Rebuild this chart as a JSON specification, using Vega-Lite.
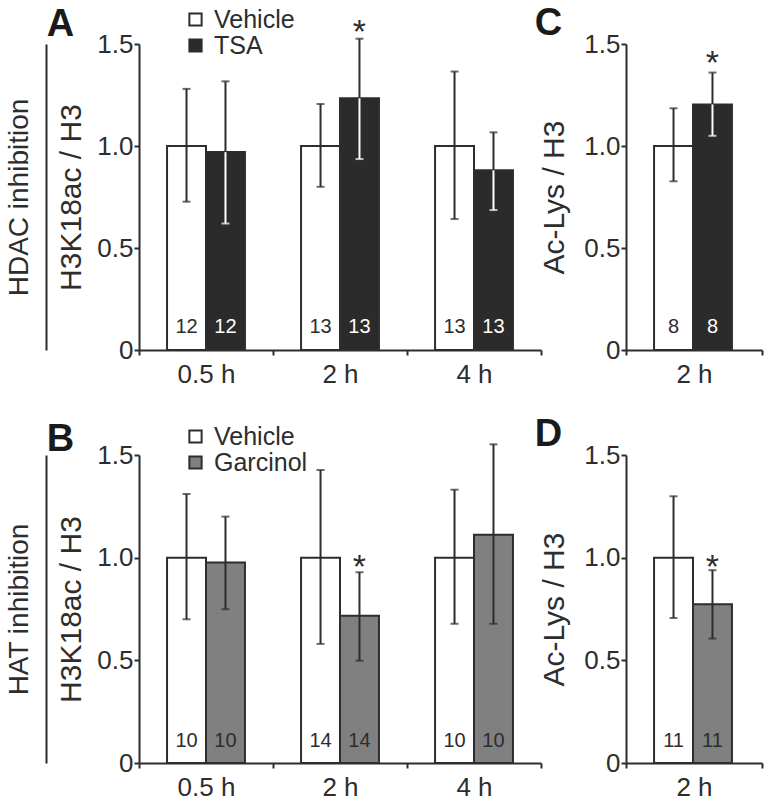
{
  "$schema": "https://vega.github.io/schema/vega-lite/v6.json",
  "padding": {"left": 5, "top": 5, "right": 5, "bottom": 0},
  "background": "white",
  "config": {
    "font": "Liberation Sans",
    "view": {"stroke": null},
    "axis": {"domainColor": "#2d2d2d", "domainWidth": 2, "tickColor": "#2d2d2d", "tickWidth": 2, "tickSize": 5, "labelFontSize": 26, "labelColor": "#2d2d2d", "titleFontSize": 30, "titleFontWeight": "normal", "titleColor": "#2d2d2d", "grid": false},
    "title": {"fontSize": 38, "fontWeight": "bold", "color": "#1a1a1a", "anchor": "start", "frame": "bounds"},
    "legend": {"labelFontSize": 25, "labelColor": "#2d2d2d", "symbolType": "square", "symbolSize": 150, "symbolStrokeColor": "#2d2d2d", "symbolStrokeWidth": 2, "rowPadding": -2, "labelOffset": 6}
  },
  "datasets": {
    "bars": [
      {"panel": "A", "time": "0.5 h", "group": "Vehicle", "mean": 1.0, "lo": 0.727, "hi": 1.28, "n": 12, "sig": ""},
      {"panel": "A", "time": "0.5 h", "group": "TSA", "mean": 0.97, "lo": 0.62, "hi": 1.317, "n": 12, "sig": ""},
      {"panel": "A", "time": "2 h", "group": "Vehicle", "mean": 1.0, "lo": 0.8, "hi": 1.206, "n": 13, "sig": ""},
      {"panel": "A", "time": "2 h", "group": "TSA", "mean": 1.234, "lo": 0.936, "hi": 1.526, "n": 13, "sig": "*"},
      {"panel": "A", "time": "4 h", "group": "Vehicle", "mean": 1.0, "lo": 0.642, "hi": 1.365, "n": 13, "sig": ""},
      {"panel": "A", "time": "4 h", "group": "TSA", "mean": 0.881, "lo": 0.686, "hi": 1.067, "n": 13, "sig": ""},
      {"panel": "C", "time": "2 h", "group": "Vehicle", "mean": 1.0, "lo": 0.827, "hi": 1.185, "n": 8, "sig": ""},
      {"panel": "C", "time": "2 h", "group": "TSA", "mean": 1.204, "lo": 1.05, "hi": 1.36, "n": 8, "sig": "*"},
      {"panel": "B", "time": "0.5 h", "group": "Vehicle", "mean": 1.0, "lo": 0.7, "hi": 1.31, "n": 10, "sig": ""},
      {"panel": "B", "time": "0.5 h", "group": "Garcinol", "mean": 0.976, "lo": 0.749, "hi": 1.2, "n": 10, "sig": ""},
      {"panel": "B", "time": "2 h", "group": "Vehicle", "mean": 1.0, "lo": 0.58, "hi": 1.427, "n": 14, "sig": ""},
      {"panel": "B", "time": "2 h", "group": "Garcinol", "mean": 0.717, "lo": 0.498, "hi": 0.929, "n": 14, "sig": "*"},
      {"panel": "B", "time": "4 h", "group": "Vehicle", "mean": 1.0, "lo": 0.678, "hi": 1.331, "n": 10, "sig": ""},
      {"panel": "B", "time": "4 h", "group": "Garcinol", "mean": 1.112, "lo": 0.678, "hi": 1.552, "n": 10, "sig": ""},
      {"panel": "D", "time": "2 h", "group": "Vehicle", "mean": 1.0, "lo": 0.706, "hi": 1.299, "n": 11, "sig": ""},
      {"panel": "D", "time": "2 h", "group": "Garcinol", "mean": 0.773, "lo": 0.606, "hi": 0.939, "n": 11, "sig": "*"}
    ],
    "labels": [{"k": 1}]
  },
  "resolve": {"scale": {"fill": "independent", "xOffset": "independent", "x": "independent", "y": "independent"}},
  "vconcat": [
    {
      "hconcat": [
        {
          "data": {"name": "labels"},
          "width": 1, "height": 306,
          "mark": {"type": "rule", "opacity": 0},
          "encoding": {
            "y": {"datum": 0, "type": "quantitative", "scale": {"domain": [0, 1.5], "nice": false},
              "axis": {"title": "HDAC inhibition", "labels": false, "ticks": false, "titlePadding": 13, "titleFontSize": 28}}
          }
        },
        {
          "hconcat": [
            {
              "data": {"name": "bars"},
              "width": 402, "height": 306,
              "title": {"text": "A", "dx": -10, "dy": 32},
              "transform": [{"filter": "datum.panel === 'A'"}],
              "encoding": {
                "x": {"field": "time", "type": "nominal", "sort": ["0.5 h", "2 h", "4 h"], "scale": {"paddingInner": 0, "paddingOuter": 0},
                  "axis": {"title": null, "labelAngle": 0, "tickBand": "extent", "labelPadding": 6}},
                "xOffset": {"field": "group", "type": "nominal", "scale": {"domain": ["Vehicle", "TSA"], "paddingInner": 0, "paddingOuter": 0.72}}
              },
              "layer": [
                {"mark": {"type": "bar", "stroke": "#2d2d2d", "strokeWidth": 2},
                  "encoding": {
                    "y": {"field": "mean", "type": "quantitative", "scale": {"domain": [0, 1.5], "nice": false},
                      "axis": {"title": "H3K18ac / H3", "values": [0, 0.5, 1, 1.5], "labelExpr": "datum.value === 0 ? '0' : format(datum.value, '.1f')", "labelPadding": 1, "titlePadding": 10}},
                    "fill": {"field": "group", "type": "nominal", "scale": {"domain": ["Vehicle", "TSA"], "range": ["#ffffff", "#2b2b2b"]},
                      "legend": {"title": null, "orient": "none", "legendX": 137, "legendY": -37}}
                  }},
                {"mark": {"type": "rule", "color": "#2d2d2d", "strokeWidth": 2},
                  "encoding": {"y": {"field": "lo", "type": "quantitative"}, "y2": {"field": "hi"}}},
                {"transform": [{"filter": "datum.group === 'TSA'"}],
                  "mark": {"type": "rule", "color": "#ffffff", "strokeWidth": 2},
                  "encoding": {"y": {"field": "lo", "type": "quantitative"}, "y2": {"field": "mean"}}},
                {"mark": {"type": "tick", "color": "#2d2d2d", "thickness": 2, "size": 8, "orient": "horizontal"},
                  "encoding": {"y": {"field": "hi", "type": "quantitative"}}},
                {"mark": {"type": "tick", "thickness": 2, "size": 8, "orient": "horizontal"},
                  "encoding": {"y": {"field": "lo", "type": "quantitative"},
                    "color": {"condition": {"test": "datum.group === 'TSA'", "value": "#ffffff"}, "value": "#2d2d2d"}}},
                {"mark": {"type": "text", "fontSize": 20, "baseline": "alphabetic", "dy": -17},
                  "encoding": {"y": {"datum": 0, "type": "quantitative"}, "text": {"field": "n"},
                    "color": {"condition": {"test": "datum.group === 'TSA'", "value": "#ffffff"}, "value": "#2d2d2d"}}},
                {"transform": [{"filter": "datum.sig === '*'"}],
                  "mark": {"type": "text", "fontSize": 34, "baseline": "alphabetic", "dy": 4, "color": "#2d2d2d"},
                  "encoding": {"y": {"field": "hi", "type": "quantitative"}, "text": {"field": "sig"}}}
              ]
            },
            {
              "data": {"name": "bars"},
              "width": 136, "height": 306,
              "title": {"text": "C", "dx": -5, "offset": -12},
              "transform": [{"filter": "datum.panel === 'C'"}],
              "encoding": {
                "x": {"field": "time", "type": "nominal", "scale": {"paddingInner": 0, "paddingOuter": 0},
                  "axis": {"title": null, "labelAngle": 0, "tickBand": "extent", "labelPadding": 6}},
                "xOffset": {"field": "group", "type": "nominal", "scale": {"domain": ["Vehicle", "TSA"], "paddingInner": 0, "paddingOuter": 0.72}}
              },
              "layer": [
                {"mark": {"type": "bar", "stroke": "#2d2d2d", "strokeWidth": 2},
                  "encoding": {
                    "y": {"field": "mean", "type": "quantitative", "scale": {"domain": [0, 1.5], "nice": false},
                      "axis": {"title": "Ac-Lys / H3", "values": [0, 0.5, 1, 1.5], "labelExpr": "datum.value === 0 ? '0' : format(datum.value, '.1f')", "labelPadding": 1, "titlePadding": 14}},
                    "fill": {"field": "group", "type": "nominal", "scale": {"domain": ["Vehicle", "TSA"], "range": ["#ffffff", "#2b2b2b"]}, "legend": null}
                  }},
                {"mark": {"type": "rule", "color": "#2d2d2d", "strokeWidth": 2},
                  "encoding": {"y": {"field": "lo", "type": "quantitative"}, "y2": {"field": "hi"}}},
                {"transform": [{"filter": "datum.group === 'TSA'"}],
                  "mark": {"type": "rule", "color": "#ffffff", "strokeWidth": 2},
                  "encoding": {"y": {"field": "lo", "type": "quantitative"}, "y2": {"field": "mean"}}},
                {"mark": {"type": "tick", "color": "#2d2d2d", "thickness": 2, "size": 8, "orient": "horizontal"},
                  "encoding": {"y": {"field": "hi", "type": "quantitative"}}},
                {"mark": {"type": "tick", "thickness": 2, "size": 8, "orient": "horizontal"},
                  "encoding": {"y": {"field": "lo", "type": "quantitative"},
                    "color": {"condition": {"test": "datum.group === 'TSA'", "value": "#ffffff"}, "value": "#2d2d2d"}}},
                {"mark": {"type": "text", "fontSize": 20, "baseline": "alphabetic", "dy": -17},
                  "encoding": {"y": {"datum": 0, "type": "quantitative"}, "text": {"field": "n"},
                    "color": {"condition": {"test": "datum.group === 'TSA'", "value": "#ffffff"}, "value": "#2d2d2d"}}},
                {"transform": [{"filter": "datum.sig === '*'"}],
                  "mark": {"type": "text", "fontSize": 34, "baseline": "alphabetic", "dy": 1, "color": "#2d2d2d"},
                  "encoding": {"y": {"field": "hi", "type": "quantitative"}, "text": {"field": "sig"}}}
              ]
            }
          ],
          "spacing": -8
        }
      ],
      "spacing": -1
    },
    {
      "hconcat": [
        {
          "data": {"name": "labels"},
          "width": 1, "height": 308,
          "mark": {"type": "rule", "opacity": 0},
          "encoding": {
            "y": {"datum": 0, "type": "quantitative", "scale": {"domain": [0, 1.5], "nice": false},
              "axis": {"title": "HAT inhibition", "labels": false, "ticks": false, "titlePadding": 13, "titleFontSize": 28}}
          }
        },
        {
          "hconcat": [
            {
              "data": {"name": "bars"},
              "width": 402, "height": 308,
              "title": {"text": "B", "dx": -10, "dy": 21},
              "transform": [{"filter": "datum.panel === 'B'"}],
              "encoding": {
                "x": {"field": "time", "type": "nominal", "sort": ["0.5 h", "2 h", "4 h"], "scale": {"paddingInner": 0, "paddingOuter": 0},
                  "axis": {"title": null, "labelAngle": 0, "tickBand": "extent", "labelPadding": 6}},
                "xOffset": {"field": "group", "type": "nominal", "scale": {"domain": ["Vehicle", "Garcinol"], "paddingInner": 0, "paddingOuter": 0.72}}
              },
              "layer": [
                {"mark": {"type": "bar", "stroke": "#2d2d2d", "strokeWidth": 2},
                  "encoding": {
                    "y": {"field": "mean", "type": "quantitative", "scale": {"domain": [0, 1.5], "nice": false},
                      "axis": {"title": "H3K18ac / H3", "values": [0, 0.5, 1, 1.5], "labelExpr": "datum.value === 0 ? '0' : format(datum.value, '.1f')", "labelPadding": 1, "titlePadding": 10}},
                    "fill": {"field": "group", "type": "nominal", "scale": {"domain": ["Vehicle", "Garcinol"], "range": ["#ffffff", "#808080"]},
                      "legend": {"title": null, "orient": "none", "legendX": 137, "legendY": -31}}
                  }},
                {"mark": {"type": "rule", "color": "#2d2d2d", "strokeWidth": 2},
                  "encoding": {"y": {"field": "lo", "type": "quantitative"}, "y2": {"field": "hi"}}},
                {"mark": {"type": "tick", "color": "#2d2d2d", "thickness": 2, "size": 8, "orient": "horizontal"},
                  "encoding": {"y": {"field": "hi", "type": "quantitative"}}},
                {"mark": {"type": "tick", "color": "#2d2d2d", "thickness": 2, "size": 8, "orient": "horizontal"},
                  "encoding": {"y": {"field": "lo", "type": "quantitative"}}},
                {"mark": {"type": "text", "fontSize": 20, "baseline": "alphabetic", "dy": -16, "color": "#2d2d2d"},
                  "encoding": {"y": {"datum": 0, "type": "quantitative"}, "text": {"field": "n"}}},
                {"transform": [{"filter": "datum.sig === '*'"}],
                  "mark": {"type": "text", "fontSize": 34, "baseline": "alphabetic", "dy": 6, "color": "#2d2d2d"},
                  "encoding": {"y": {"field": "hi", "type": "quantitative"}, "text": {"field": "sig"}}}
              ]
            },
            {
              "data": {"name": "bars"},
              "width": 136, "height": 308,
              "title": {"text": "D", "dx": -5, "offset": -12},
              "transform": [{"filter": "datum.panel === 'D'"}],
              "encoding": {
                "x": {"field": "time", "type": "nominal", "scale": {"paddingInner": 0, "paddingOuter": 0},
                  "axis": {"title": null, "labelAngle": 0, "tickBand": "extent", "labelPadding": 6}},
                "xOffset": {"field": "group", "type": "nominal", "scale": {"domain": ["Vehicle", "Garcinol"], "paddingInner": 0, "paddingOuter": 0.72}}
              },
              "layer": [
                {"mark": {"type": "bar", "stroke": "#2d2d2d", "strokeWidth": 2},
                  "encoding": {
                    "y": {"field": "mean", "type": "quantitative", "scale": {"domain": [0, 1.5], "nice": false},
                      "axis": {"title": "Ac-Lys / H3", "values": [0, 0.5, 1, 1.5], "labelExpr": "datum.value === 0 ? '0' : format(datum.value, '.1f')", "labelPadding": 1, "titlePadding": 14}},
                    "fill": {"field": "group", "type": "nominal", "scale": {"domain": ["Vehicle", "Garcinol"], "range": ["#ffffff", "#808080"]}, "legend": null}
                  }},
                {"mark": {"type": "rule", "color": "#2d2d2d", "strokeWidth": 2},
                  "encoding": {"y": {"field": "lo", "type": "quantitative"}, "y2": {"field": "hi"}}},
                {"mark": {"type": "tick", "color": "#2d2d2d", "thickness": 2, "size": 8, "orient": "horizontal"},
                  "encoding": {"y": {"field": "hi", "type": "quantitative"}}},
                {"mark": {"type": "tick", "color": "#2d2d2d", "thickness": 2, "size": 8, "orient": "horizontal"},
                  "encoding": {"y": {"field": "lo", "type": "quantitative"}}},
                {"mark": {"type": "text", "fontSize": 20, "baseline": "alphabetic", "dy": -16, "color": "#2d2d2d"},
                  "encoding": {"y": {"datum": 0, "type": "quantitative"}, "text": {"field": "n"}}},
                {"transform": [{"filter": "datum.sig === '*'"}],
                  "mark": {"type": "text", "fontSize": 34, "baseline": "alphabetic", "dy": 8, "color": "#2d2d2d"},
                  "encoding": {"y": {"field": "hi", "type": "quantitative"}, "text": {"field": "sig"}}}
              ]
            }
          ],
          "spacing": -8
        }
      ],
      "spacing": -1
    }
  ],
  "spacing": 29
}
